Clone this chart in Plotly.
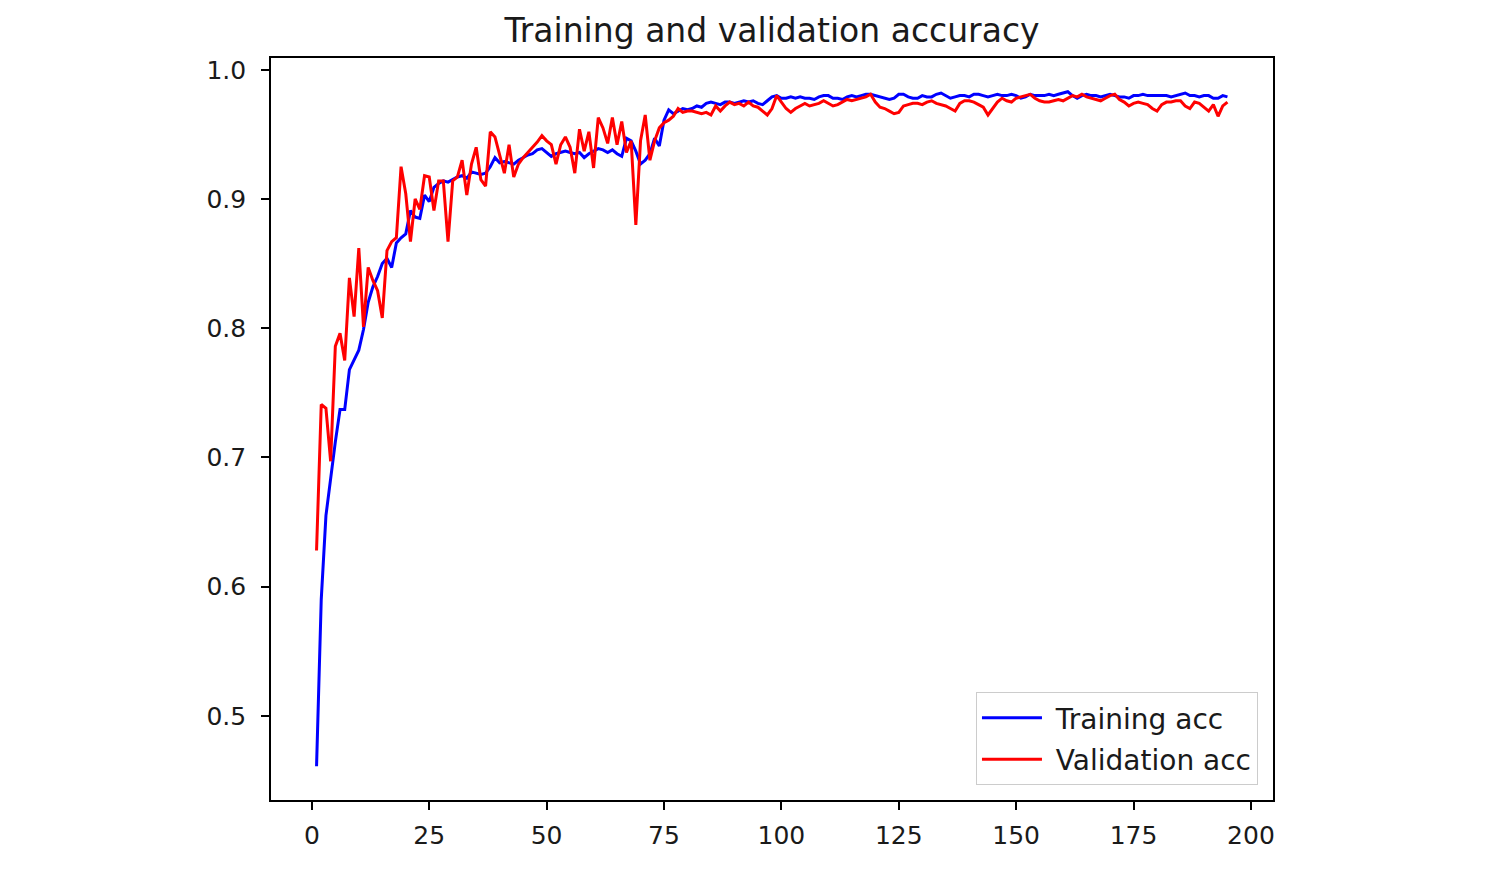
import plotly.graph_objects as go

epochs = list(range(1, 196))

training_acc = [
    0.461, 0.590, 0.655, 0.685, 0.712, 0.737, 0.737, 0.768, 0.775, 0.783,
    0.799, 0.820, 0.832, 0.840, 0.850, 0.854, 0.847, 0.866, 0.870, 0.873,
    0.891, 0.886, 0.885, 0.903, 0.898, 0.909, 0.912, 0.914, 0.913, 0.915,
    0.917, 0.918, 0.916, 0.921, 0.920, 0.919, 0.920, 0.925, 0.932, 0.928,
    0.929, 0.928, 0.927, 0.930, 0.932, 0.934, 0.935, 0.938, 0.939, 0.936,
    0.933, 0.935, 0.936, 0.937, 0.936, 0.935, 0.936, 0.932, 0.935, 0.937,
    0.939, 0.938, 0.936, 0.938, 0.935, 0.933, 0.947, 0.945, 0.937, 0.927,
    0.930, 0.935, 0.947, 0.941, 0.961, 0.969, 0.966, 0.968, 0.970, 0.969,
    0.970, 0.972, 0.971, 0.974, 0.975, 0.974, 0.973, 0.975, 0.975, 0.974,
    0.975, 0.976, 0.975, 0.976, 0.974, 0.973, 0.976, 0.979, 0.980, 0.978,
    0.978, 0.979, 0.978, 0.979, 0.978, 0.978, 0.977, 0.979, 0.980, 0.980,
    0.978, 0.978, 0.977, 0.979, 0.980, 0.979, 0.980, 0.981, 0.981, 0.980,
    0.979, 0.978, 0.977, 0.978, 0.981, 0.981, 0.979, 0.978, 0.978, 0.980,
    0.979, 0.979, 0.981, 0.982, 0.980, 0.978, 0.979, 0.980, 0.980, 0.979,
    0.981, 0.981, 0.980, 0.979, 0.980, 0.981, 0.980, 0.980, 0.981, 0.980,
    0.978, 0.979, 0.981, 0.980, 0.980, 0.980, 0.981, 0.980, 0.981, 0.982,
    0.983, 0.980, 0.978, 0.980, 0.981, 0.980, 0.980, 0.979, 0.980, 0.981,
    0.980, 0.979, 0.979, 0.978, 0.980, 0.980, 0.981, 0.980, 0.980, 0.980,
    0.980, 0.980, 0.979, 0.980, 0.981, 0.982, 0.980, 0.980, 0.979, 0.980,
    0.980, 0.978, 0.978, 0.980, 0.979,
]

validation_acc = [
    0.628, 0.741, 0.738, 0.697, 0.786, 0.796, 0.775, 0.839, 0.809, 0.862,
    0.801, 0.847, 0.837, 0.829, 0.808, 0.860, 0.867, 0.870, 0.925, 0.904,
    0.867, 0.900, 0.892, 0.918, 0.917, 0.891, 0.914, 0.914, 0.867, 0.914,
    0.917, 0.930, 0.903, 0.927, 0.940, 0.915, 0.910, 0.952, 0.948, 0.935,
    0.920, 0.942, 0.917, 0.927, 0.932, 0.936, 0.940, 0.944, 0.949, 0.945,
    0.942, 0.927, 0.942, 0.948, 0.940, 0.920, 0.954, 0.937, 0.952, 0.924,
    0.963, 0.955, 0.943, 0.963, 0.942, 0.960, 0.936, 0.945, 0.880, 0.945,
    0.965, 0.930, 0.945, 0.955, 0.959, 0.961, 0.964, 0.970, 0.967, 0.968,
    0.968, 0.967, 0.966, 0.967, 0.965, 0.972, 0.968, 0.972, 0.975, 0.973,
    0.974, 0.972, 0.975, 0.972, 0.971, 0.968, 0.965, 0.970, 0.980, 0.975,
    0.970, 0.967, 0.970, 0.972, 0.974, 0.972, 0.973, 0.974, 0.976, 0.974,
    0.972, 0.973, 0.975, 0.977, 0.976, 0.977, 0.978, 0.979, 0.981, 0.975,
    0.971, 0.970, 0.968, 0.966, 0.967, 0.972, 0.973, 0.974, 0.974, 0.973,
    0.975, 0.976, 0.974, 0.973, 0.972, 0.970, 0.968, 0.974, 0.976, 0.976,
    0.975, 0.973, 0.971, 0.965, 0.970, 0.975, 0.978, 0.976, 0.975, 0.978,
    0.979, 0.980, 0.981, 0.978, 0.976, 0.975, 0.975, 0.976, 0.977, 0.976,
    0.978, 0.980, 0.979, 0.981, 0.979, 0.978, 0.977, 0.976, 0.978, 0.980,
    0.981, 0.977, 0.975, 0.972, 0.974, 0.975, 0.974, 0.973, 0.970, 0.968,
    0.973, 0.975, 0.975, 0.976, 0.976, 0.972, 0.970, 0.975, 0.974, 0.971,
    0.968, 0.973, 0.964, 0.972, 0.975,
]

x_ticks = [0, 25, 50, 75, 100, 125, 150, 175, 200]
y_ticks = [0.5, 0.6, 0.7, 0.8, 0.9, 1.0]
series_names = ["Training acc", "Validation acc"]

# matplotlib-style autoscale with 5% margins
xmin, xmax = min(epochs), max(epochs)
xpad = (xmax - xmin) * 0.05
allv = training_acc + validation_acc
ymin, ymax = min(allv), max(allv)
ypad = (ymax - ymin) * 0.05

pad = "\u00a0"
fig = go.Figure()
fig.add_trace(go.Scatter(x=epochs, y=training_acc, mode="lines", name=pad + series_names[0],
                         legendgroup="t", line=dict(color="#0000ff", width=3)))
fig.add_trace(go.Scatter(x=epochs, y=validation_acc, mode="lines", name=pad + series_names[1],
                         legendgroup="v", line=dict(color="#ff0000", width=3)))

axis_common = dict(showline=True, linecolor="black", linewidth=1.6, mirror=True,
                   ticks="outside", ticklen=8, tickwidth=1.6, tickcolor="black",
                   showgrid=False, zeroline=False,
                   tickfont=dict(family="DejaVu Sans", size=25, color="#1a1a1a"))

fig.update_layout(
    width=1488, height=880,
    margin=dict(l=271, r=215, t=58, b=80),
    paper_bgcolor="white", plot_bgcolor="white",
    title=dict(text="Training and validation accuracy", x=0.5, xanchor="center",
               xref="paper", y=1 - 30 / 880, yanchor="middle",
               font=dict(family="DejaVu Sans", size=33, color="#1a1a1a")),
    xaxis=dict(range=[xmin - xpad, xmax + xpad], tickvals=x_ticks,
               ticklabelstandoff=4, **axis_common),
    yaxis=dict(range=[ymin - ypad, ymax + ypad], tickvals=y_ticks, tickformat=".1f",
               ticklabelstandoff=10, **axis_common),
    legend=dict(x=0.985, y=0.02, xanchor="right", yanchor="bottom",
                bgcolor="rgba(255,255,255,0.8)", bordercolor="#cccccc", borderwidth=1,
                font=dict(family="DejaVu Sans", size=28, color="#1a1a1a"),
                itemwidth=60, tracegroupgap=2),
    showlegend=True,
)

fig.write_html("out.html")
